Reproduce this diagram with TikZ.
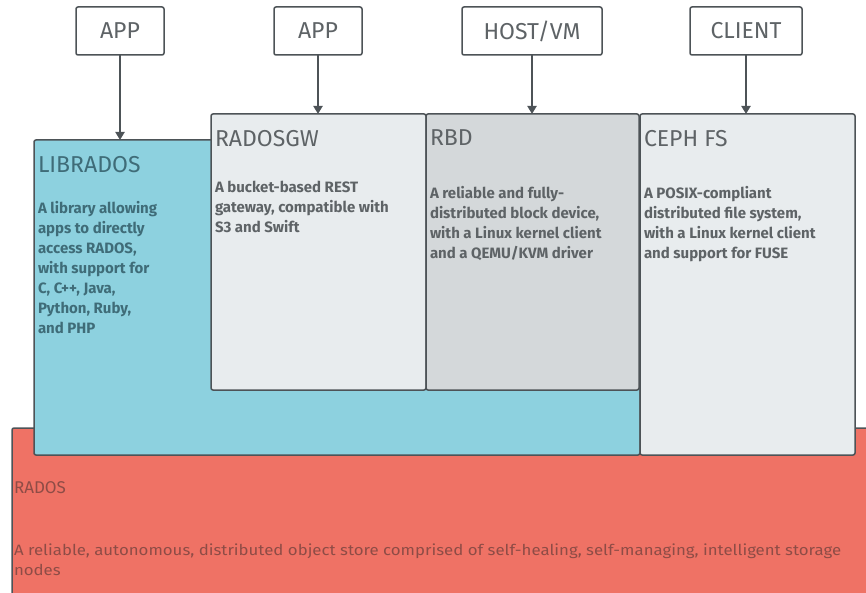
\documentclass[tikz,border=0pt]{standalone}
\usepackage{fontspec}
\setmainfont{Fira Sans}
\usetikzlibrary{positioning,arrows.meta}
\definecolor{edgegray}{HTML}{4D5357}
\definecolor{libcyan}{HTML}{8DD1DF}
\definecolor{paleshade}{HTML}{E8ECEE}
\definecolor{rbdshade}{HTML}{D4D8DA}
\definecolor{radosred}{HTML}{EF7265}
\definecolor{txtgray}{HTML}{5E6366}
\definecolor{libtxt}{HTML}{3F6C78}
\definecolor{radostxt}{HTML}{8E4C46}
\begin{document}
\begin{tikzpicture}
[x=1pt,y=-1pt,
every node/.style={inner sep=0pt,outer sep=0pt},
box/.style={draw=edgegray,line width=1.5pt,rounded corners=2pt},
topbox/.style={box,fill=white,minimum height=48pt,font=\fontsize{23}{26}\selectfont,text=txtgray},
title/.style={font=\fontsize{23}{26}\selectfont,text=txtgray},
body/.style={font=\fontsize{15}{20}\selectfont\bfseries,align=left,text=txtgray},
link/.style={draw=edgegray,line width=2pt,-{Triangle[width=9pt,length=8pt]}}]

\useasboundingbox (0,0) rectangle (866,593);

\node[box,fill=radosred,minimum width=868pt,minimum height=172pt] (rados) at (446,514) {};
\node[box,fill=libcyan,minimum width=606pt,minimum height=315pt] (librados) at (337,297.5) {};
\node[box,fill=paleshade,minimum width=215pt,minimum height=276pt] (radosgw) at (318.5,252) {};
\node[box,fill=rbdshade,minimum width=213pt,minimum height=276pt] (rbd) at (532.5,252) {};
\node[box,fill=paleshade,minimum width=215pt,minimum height=341pt] (cephfs) at (747.5,284.5) {};

\node[topbox,minimum width=88pt] (app1) at (120,31) {APP};
\node[topbox,minimum width=88pt] (app2) at (318,31) {APP};
\node[topbox,minimum width=140pt] (host) at (532,31) {HOST/VM};
\node[topbox,minimum width=112pt] (client) at (746,31) {CLIENT};

\draw[link] (app1) -- (app1 |- librados.north);
\draw[link] (app2) -- (app2 |- radosgw.north);
\draw[link] (host) -- (host |- rbd.north);
\draw[link] (client) -- (client |- cephfs.north);

\node[title,text=libtxt,below right=16pt and 4pt of librados.north west] (libtitle) {LIBRADOS};
\node[body,text=libtxt,below right=61pt and 4pt of librados.north west] (libtext)
  {A library allowing\\apps to directly\\access RADOS,\\with support for\\C, C++, Java,\\Python, Ruby,\\and PHP};
\node[title,below right=16pt and 4pt of radosgw.north west] (gwtitle) {RADOSGW};
\node[body,below right=67pt and 4pt of radosgw.north west] (gwtext)
  {A bucket-based REST\\gateway, compatible with\\S3 and Swift};
\node[title,below right=16pt and 4pt of rbd.north west] (rbdtitle) {RBD};
\node[body,below right=72pt and 4pt of rbd.north west] (rbdtext)
  {A reliable and fully-\\distributed block device,\\with a Linux kernel client\\and a QEMU/KVM driver};
\node[title,below right=16pt and 4pt of cephfs.north west] (fstitle) {CEPH FS};
\node[body,below right=72pt and 4pt of cephfs.north west] (fstext)
  {A POSIX-compliant\\distributed file system,\\with a Linux kernel client\\and support for FUSE};
\node[title,text=radostxt,font=\fontsize{17}{20}\selectfont,below right=54pt and 2pt of rados.north west] (radostitle) {RADOS};
\node[body,text=radostxt,font=\fontsize{15}{20}\selectfont\addfontfeatures{FakeStretch=1.12},below right=116pt and 2pt of rados.north west] (radostext)
  {A reliable, autonomous, distributed object store comprised of self-healing, self-managing, intelligent storage\\nodes};
\end{tikzpicture}
\end{document}
